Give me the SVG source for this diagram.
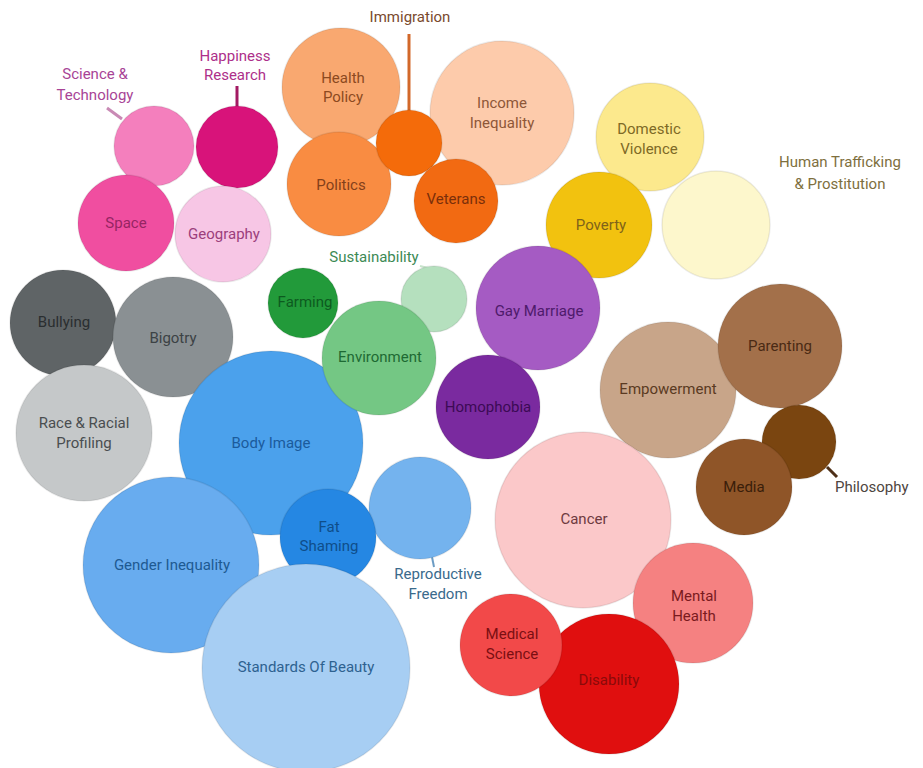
<svg xmlns="http://www.w3.org/2000/svg" width="923" height="768" viewBox="0 0 923 768">
<style>
text{font-family:Roboto,"Open Sans","Liberation Sans",sans-serif;font-size:15px;text-anchor:middle;dominant-baseline:middle}
circle{stroke:#000;stroke-opacity:0.08;stroke-width:1.5}
.ln{stroke-width:3;fill:none}
</style>
<rect width="923" height="768" fill="#ffffff"/>
<g id="connectors">
<line class="ln" x1="107" y1="108" x2="122" y2="119" stroke="#c98ab5"/>
<line class="ln" x1="237" y1="86" x2="237" y2="107" stroke="#a31a63"/>
<line class="ln" x1="409" y1="34" x2="409" y2="112" stroke="#d2682a"/>
<line x1="420" y1="266" x2="428" y2="268" stroke="#c8e4cc" stroke-width="2"/>
<line class="ln" x1="827" y1="467" x2="837" y2="477" stroke="#4e3018"/>
<line x1="432" y1="557" x2="434" y2="567" stroke="#6c9cc4" stroke-width="2"/>
</g>
<g id="science-technology"><circle cx="154" cy="146" r="40" fill="#f47fbd"/><text x="95" y="75" fill="#a84496">Science &amp;</text><text x="95" y="96" fill="#a84496">Technology</text></g>
<g id="happiness-research"><circle cx="237" cy="147" r="41" fill="#d8137a"/><text x="235" y="57" fill="#ad2f8a">Happiness</text><text x="235" y="76" fill="#ad2f8a">Research</text></g>
<g id="space"><circle cx="126" cy="223" r="48" fill="#f04ea0"/><text x="126" y="224" fill="#962563">Space</text></g>
<g id="geography"><circle cx="223" cy="234" r="48" fill="#f7c6e5"/><text x="224" y="235" fill="#9c3e7c">Geography</text></g>
<g id="health-policy"><circle cx="341" cy="87" r="59" fill="#f9a870"/><text x="343" y="79" fill="#8c4a20">Health</text><text x="343" y="98" fill="#8c4a20">Policy</text></g>
<g id="income-inequality"><circle cx="502" cy="113" r="72" fill="#fdcbab"/><text x="502" y="104" fill="#8e5738">Income</text><text x="502" y="124" fill="#8e5738">Inequality</text></g>
<g id="politics"><circle cx="339" cy="184" r="52" fill="#f98c42"/><text x="341" y="186" fill="#83401a">Politics</text></g>
<g id="immigration"><circle cx="409" cy="143" r="33" fill="#f46b0a"/><text x="410" y="18" fill="#7a4a2e">Immigration</text></g>
<g id="veterans"><circle cx="456" cy="201" r="42" fill="#f26a12"/><text x="456" y="200" fill="#7a2f0a">Veterans</text></g>
<g id="domestic-violence"><circle cx="650" cy="137" r="54" fill="#fce98d"/><text x="649" y="130" fill="#7e6a26">Domestic</text><text x="649" y="150" fill="#7e6a26">Violence</text></g>
<g id="poverty"><circle cx="599" cy="225" r="53" fill="#f2c20f"/><text x="601" y="226" fill="#80631a">Poverty</text></g>
<g id="human-trafficking"><circle cx="716" cy="225" r="54" fill="#fdf7cc"/><text x="840" y="163" fill="#7e6f3e">Human Trafficking</text><text x="840" y="185" fill="#7e6f3e">&amp; Prostitution</text></g>
<g id="bullying"><circle cx="63" cy="323" r="53" fill="#5f6466"/><text x="64" y="323" fill="#2a2e30">Bullying</text></g>
<g id="bigotry"><circle cx="173" cy="337" r="60" fill="#8a9093"/><text x="173" y="339" fill="#3c4245">Bigotry</text></g>
<g id="race-racial-profiling"><circle cx="84" cy="433" r="68" fill="#c5c8c9"/><text x="84" y="424" fill="#4a4e50">Race &amp; Racial</text><text x="84" y="444" fill="#4a4e50">Profiling</text></g>
<g id="farming"><circle cx="303" cy="303" r="35" fill="#229a3a"/><text x="305" y="303" fill="#0d5a1f">Farming</text></g>
<g id="sustainability"><circle cx="434" cy="299" r="33" fill="#b5e0be"/><text x="374" y="258" fill="#3c8a55">Sustainability</text></g>
<g id="body-image"><circle cx="271" cy="443" r="92" fill="#4ba1ec"/><text x="271" y="444" fill="#1b5b9c">Body Image</text></g>
<g id="environment"><circle cx="379" cy="358" r="57" fill="#74c784"/><text x="380" y="358" fill="#1e6a33">Environment</text></g>
<g id="gay-marriage"><circle cx="538" cy="308" r="62" fill="#a55bc3"/><text x="539" y="312" fill="#4e1a6b">Gay Marriage</text></g>
<g id="homophobia"><circle cx="488" cy="407" r="52" fill="#7a2a9f"/><text x="488" y="408" fill="#3c0a55">Homophobia</text></g>
<g id="empowerment"><circle cx="668" cy="390" r="68" fill="#c8a589"/><text x="668" y="390" fill="#5a3a22">Empowerment</text></g>
<g id="parenting"><circle cx="780" cy="346" r="62" fill="#a3704a"/><text x="780" y="347" fill="#4a2a14">Parenting</text></g>
<g id="philosophy"><circle cx="799" cy="442" r="37" fill="#7a4510"/><text x="835" y="488" fill="#4e4540" style="text-anchor:start">Philosophy</text></g>
<g id="media"><circle cx="744" cy="487" r="48" fill="#8f5528"/><text x="744" y="488" fill="#3a1e0a">Media</text></g>
<g id="gender-inequality"><circle cx="171" cy="565" r="88" fill="#68acef"/><text x="172" y="566" fill="#1e5a92">Gender Inequality</text></g>
<g id="reproductive-freedom"><circle cx="420" cy="508" r="51" fill="#74b3ee"/><text x="438" y="575" fill="#3a6a8c">Reproductive</text><text x="438" y="595" fill="#3a6a8c">Freedom</text></g>
<g id="fat-shaming"><circle cx="328" cy="537" r="48" fill="#2587e3"/><text x="329" y="528" fill="#0f4e8a">Fat</text><text x="329" y="547" fill="#0f4e8a">Shaming</text></g>
<g id="standards-of-beauty"><circle cx="306" cy="668" r="104" fill="#a7cef3"/><text x="306" y="668" fill="#2e6290">Standards Of Beauty</text></g>
<g id="cancer"><circle cx="583" cy="520" r="88" fill="#fbc8c9"/><text x="584" y="520" fill="#6e3a40">Cancer</text></g>
<g id="mental-health"><circle cx="693" cy="603" r="60" fill="#f58181"/><text x="694" y="597" fill="#7a1a1e">Mental</text><text x="694" y="617" fill="#7a1a1e">Health</text></g>
<g id="disability"><circle cx="609" cy="684" r="70" fill="#e00f0f"/><text x="609" y="681" fill="#8a0a0a">Disability</text></g>
<g id="medical-science"><circle cx="511" cy="645" r="51" fill="#f24949"/><text x="512" y="635" fill="#7a0f12">Medical</text><text x="512" y="655" fill="#7a0f12">Science</text></g>
</svg>
